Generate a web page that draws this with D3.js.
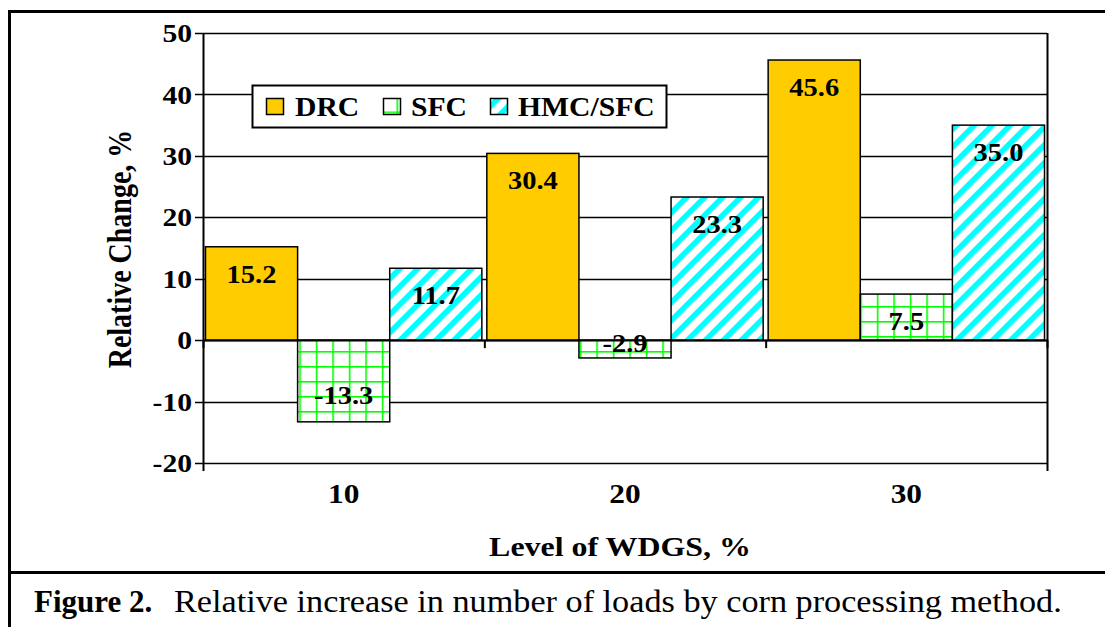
<!DOCTYPE html>
<html>
<head>
<meta charset="utf-8">
<script src="https://cdn.jsdelivr.net/npm/d3@7"></script>
<style>
  html, body { margin: 0; padding: 0; background: #fff; }
  svg { display: block; }
  text { font-family: "Liberation Serif", "Times New Roman", serif; }
</style>
</head>
<body>
<svg id="chart" width="1105" height="627"></svg>
<script>
// ---- data ----
const categories = ["10", "20", "30"];
const seriesNames = ["DRC", "SFC", "HMC/SFC"];
const drcValues = [15.2, 30.4, 45.6];
const sfcValues = [-13.3, -2.9, 7.5];
const hmcValues = [11.7, 23.3, 35.0];
const yTicks = [-20, -10, 0, 10, 20, 30, 40, 50];
const yTickLabels = ["-20", "-10", "0", "10", "20", "30", "40", "50"];
const yTitle = "Relative Change, %";
const xTitle = "Level of WDGS, %";
const captionBold = "Figure 2.";
const captionText = "Relative increase in number of loads by corn processing method.";

(function () {
const SX = 1.14; // horizontal glyph stretch seen in the reference
const seriesValues = [drcValues, sfcValues, hmcValues];
const rows = [];
categories.forEach((c, i) => {
  seriesNames.forEach((s, j) => rows.push({ cat: c, series: s, si: j, value: seriesValues[j][i] }));
});

const svg = d3.select("#chart");
const defs = svg.append("defs");

// patterns
function gridPattern(id, ox, oy) {
  const p = defs.append("pattern").attr("id", id)
    .attr("patternUnits", "userSpaceOnUse").attr("width", 16.5).attr("height", 15)
    .attr("x", ox).attr("y", oy);
  p.append("rect").attr("width", 16.5).attr("height", 15).attr("fill", "#fff");
  p.append("rect").attr("x", 0).attr("y", 0).attr("width", 1.6).attr("height", 15).attr("fill", "#00ff00");
  p.append("rect").attr("x", 0).attr("y", 0).attr("width", 16.5).attr("height", 1.6).attr("fill", "#00ff00");
}
gridPattern("pGrid", 2.3, 6);
gridPattern("pGridLegend", 396.5, 111.5);

const diag = defs.append("pattern").attr("id", "pDiag")
  .attr("patternUnits", "userSpaceOnUse").attr("width", 12.7).attr("height", 12.7)
  .attr("patternTransform", "rotate(45)");
diag.append("rect").attr("width", 12.7).attr("height", 12.7).attr("fill", "#fff");
diag.append("rect").attr("x", 0).attr("y", 0).attr("width", 5.6).attr("height", 12.7).attr("fill", "#00ffff");

const fills = { "DRC": "#ffcc00", "SFC": "url(#pGrid)", "HMC/SFC": "url(#pDiag)" };
const legendFills = { "DRC": "#ffcc00", "SFC": "url(#pGridLegend)", "HMC/SFC": "url(#pDiag)" };

// outer frame
svg.append("path").attr("d", "M9.5,627 L9.5,11.5 L1110,11.5")
  .attr("fill", "none").attr("stroke", "#000").attr("stroke-width", 3);
svg.append("line").attr("x1", 9.5).attr("x2", 1110).attr("y1", 572.5).attr("y2", 572.5)
  .attr("stroke", "#000").attr("stroke-width", 3);

// scales
const pLeft = 203, pRight = 1047, pTop = 33, pBottom = 463;
const y = d3.scaleLinear().domain([-20, 50]).range([pBottom, pTop]);
const x0 = d3.scaleBand().domain(categories).range([pLeft, pRight]).padding(0);
const x1 = d3.scaleBand().domain(seriesNames).range([0, x0.bandwidth()]).paddingInner(0).paddingOuter(0.027);

// gridlines
svg.append("g").selectAll("line").data(yTicks).join("line")
  .attr("x1", pLeft - 8).attr("x2", pRight)
  .attr("y1", d => Math.round(y(d)) + 0.5).attr("y2", d => Math.round(y(d)) + 0.5)
  .attr("stroke", "#000").attr("stroke-width", 1.5);

// y axis line & right border
svg.append("line").attr("x1", pLeft + 0.5).attr("x2", pLeft + 0.5).attr("y1", y(50)).attr("y2", y(-20) + 8)
  .attr("stroke", "#000").attr("stroke-width", 2);
svg.append("line").attr("x1", pRight + 0.5).attr("x2", pRight + 0.5).attr("y1", y(50)).attr("y2", y(-20) + 8)
  .attr("stroke", "#000").attr("stroke-width", 2);

// y tick labels
svg.append("g").selectAll("text").data(yTicks).join("text")
  .attr("transform", d => `translate(${pLeft - 11},${y(d)}) scale(${SX},1)`)
  .attr("dy", "0.35em")
  .attr("text-anchor", "end").attr("font-weight", "bold").attr("font-size", 26)
  .text((d, i) => yTickLabels[i]);

// bars
svg.append("g").selectAll("rect").data(rows).join("rect")
  .attr("x", d => x0(d.cat) + x1(d.series))
  .attr("width", x1.bandwidth())
  .attr("y", d => y(Math.max(0, d.value)))
  .attr("height", d => Math.abs(y(d.value) - y(0)))
  .attr("fill", d => fills[d.series])
  .attr("stroke", "#000").attr("stroke-width", 1.5);

// zero line on top
svg.append("line").attr("x1", pLeft).attr("x2", pRight)
  .attr("y1", Math.round(y(0)) + 0.5).attr("y2", Math.round(y(0)) + 0.5)
  .attr("stroke", "#000").attr("stroke-width", 2);

// category tick marks at zero line
const boundaries = categories.map(c => x0(c)).concat([pRight]);
svg.append("g").selectAll("line").data(boundaries).join("line")
  .attr("x1", d => d + 0.5).attr("x2", d => d + 0.5)
  .attr("y1", y(0)).attr("y2", y(0) + 8)
  .attr("stroke", "#000").attr("stroke-width", 2);

// value labels
svg.append("g").selectAll("text").data(rows).join("text")
  .attr("transform", d => {
    const cx = x0(d.cat) + x1(d.series) + x1.bandwidth() / 2;
    const cy = d.value >= 0 ? Math.min(y(d.value) + 27, y(0) - 3) : Math.max(y(d.value) - 27, y(0) + 3);
    return `translate(${cx},${cy}) scale(${SX},1)`;
  })
  .attr("dy", "0.35em")
  .attr("text-anchor", "middle").attr("font-weight", "bold").attr("font-size", 25)
  .text(d => d.value.toFixed(1));

// category labels
svg.append("g").selectAll("text").data(categories).join("text")
  .attr("transform", d => `translate(${x0(d) + x0.bandwidth() / 2},503) scale(${SX},1)`)
  .attr("text-anchor", "middle").attr("font-weight", "bold").attr("font-size", 27.5)
  .text(d => d);

// axis titles
svg.append("text").attr("transform", `translate(131,249) scale(1.2,1) rotate(-90)`)
  .attr("text-anchor", "middle").attr("font-weight", "bold").attr("font-size", 28)
  .text(yTitle);
svg.append("text").attr("transform", `translate(620,556) scale(${SX},1)`)
  .attr("text-anchor", "middle").attr("font-weight", "bold").attr("font-size", 28)
  .text(xTitle);

// legend
const lg = svg.append("g");
lg.append("rect").attr("x", 252.5).attr("y", 85.5).attr("width", 414).attr("height", 42)
  .attr("fill", "#fff").attr("stroke", "#000").attr("stroke-width", 2);
const legendX = [266, 383, 490];
const legendTextX = [295, 411, 518];
seriesNames.forEach((s, i) => {
  lg.append("rect").attr("x", legendX[i] + 0.5).attr("y", 98.5).attr("width", 17).attr("height", 16)
    .attr("fill", legendFills[s]).attr("stroke", "#000").attr("stroke-width", 1.5);
  lg.append("text").attr("transform", `translate(${legendTextX[i]},116) scale(1.12,1)`)
    .attr("font-weight", "bold").attr("font-size", 26.5).text(s);
});

// caption
svg.append("text").attr("x", 34).attr("y", 612).attr("font-size", 31)
  .attr("font-weight", "bold").text(captionBold);
svg.append("text").attr("transform", "translate(174,612) scale(1.07,1)").attr("font-size", 32)
  .text(captionText);
})();
</script>
</body>
</html>
